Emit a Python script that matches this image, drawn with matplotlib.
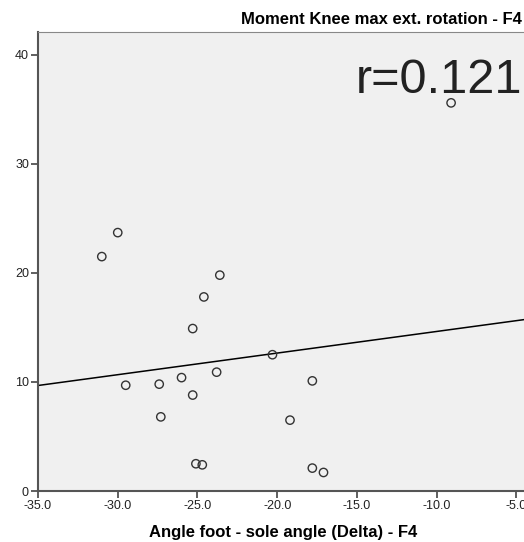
import matplotlib.pyplot as plt
import numpy as np

plt.rcParams["font.family"] = ["Liberation Sans", "DejaVu Sans"]

# Angle foot - sole angle (Delta) - F4
angle_delta = np.array([
    -31.0, -30.0, -29.5, -27.4, -27.3, -26.0, -25.3, -25.3, -25.1, -24.7,
    -24.6, -23.8, -23.6, -20.3, -19.2, -17.8, -17.8, -17.1, -9.1,
])
# Moment Knee max ext. rotation - F4
moment_knee = np.array([
    21.5, 23.7, 9.7, 9.8, 6.8, 10.4, 14.9, 8.8, 2.5, 2.4,
    17.8, 10.9, 19.8, 12.5, 6.5, 10.1, 2.1, 1.7, 35.6,
])
x_ticks = [-35.0, -30.0, -25.0, -20.0, -15.0, -10.0, -5.0]
y_ticks = [0, 10, 20, 30, 40]
r_text = "r=0.121"

fig = plt.figure(figsize=(5.24, 5.42), dpi=100)
ax = fig.add_axes([38 / 524, 1 - 491 / 542, 1 - 38 / 524 + 0.01, (491 - 32) / 542])
ax.set_facecolor("#f0f0f0")

ax.scatter(angle_delta, moment_knee, s=36, facecolors="none",
           edgecolors="#333333", linewidths=1.0, zorder=3)

slope, intercept = np.polyfit(angle_delta, moment_knee, 1)
xl = np.array([-35.0, -4.2])
ax.plot(xl, intercept + slope * xl, color="black", lw=1.1, zorder=2)

ax.set_xlim(-35.0, -4.2)
ax.set_ylim(0, 42.1)
ax.set_xticks(x_ticks)
ax.set_xticklabels([f"{v:.1f}" for v in x_ticks])
ax.set_yticks(y_ticks)
ax.tick_params(axis="both", labelsize=9, labelcolor="#222222", color="#444444",
               length=5, width=1.2, pad=1.5)

for side in ["left", "bottom"]:
    ax.spines[side].set_color("#555555")
    ax.spines[side].set_linewidth(1.5)
ax.spines["top"].set_color("#888888")
ax.spines["right"].set_visible(False)

ax.set_xlabel("Angle foot - sole angle (Delta) - F4", fontsize=12, fontweight="bold",
              labelpad=9)
fig.text(0.995, 1 - 20 / 542, "Moment Knee max ext. rotation - F4", ha="right",
         va="center", fontsize=12, fontweight="bold")
ax.text(0.985, 0.895, r_text, transform=ax.transAxes, ha="right", va="center",
        fontsize=35, color="#222222")

fig.savefig("out.png", dpi=100)
